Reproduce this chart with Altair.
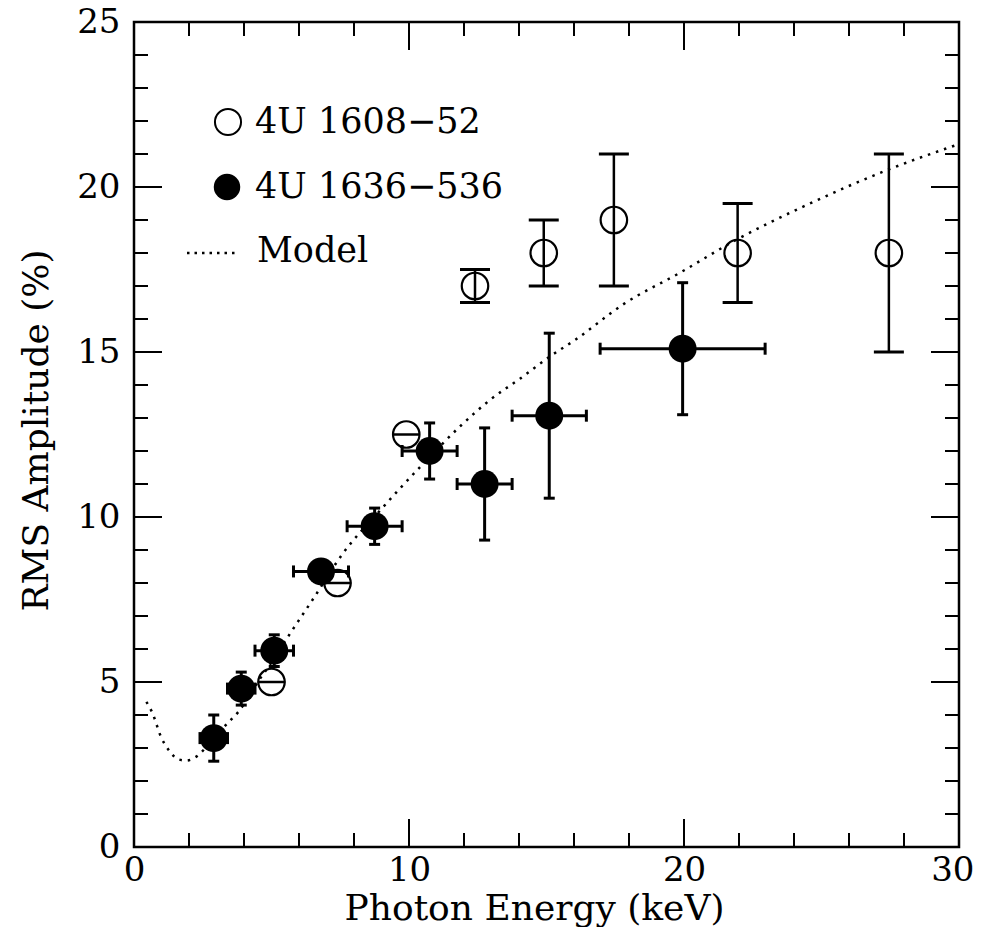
import altair as alt
import pandas as pd

# ---- data ----
# 4U 1636-536 (filled)
f_x = [2.9, 3.9, 5.1, 6.8, 8.75, 10.75, 12.75, 15.1, 19.95]
f_y = [3.3, 4.8, 5.95, 8.35, 9.72, 12.0, 11.0, 13.07, 15.1]
f_xerr = [0.5, 0.5, 0.7, 1.0, 1.0, 1.0, 1.0, 1.35, 3.0]
f_yerr = [0.7, 0.5, 0.48, 0.3, 0.55, 0.85, 1.7, 2.5, 2.0]

# 4U 1608-52 (open)
o_x = [5.0, 7.4, 9.9, 12.4, 14.9, 17.45, 21.95, 27.45]
o_y = [5.0, 8.0, 12.5, 17.0, 18.0, 19.0, 18.0, 18.0]
o_xerr = [0.5, 0.5, 0.5, 0, 0, 0, 0, 0]
o_yerr = [0, 0, 0, 0.5, 1.0, 2.0, 1.5, 3.0]

# Model (dotted)
m_x = [0.45, 0.65, 1.0, 1.3, 1.6, 1.9, 2.3, 2.8, 3.4, 3.8, 4.5, 5.0, 5.7, 6.5,
       7.6, 8.95, 10.5, 11.85, 12.95, 14.05, 15.1, 16.1, 17.8, 19.85, 21.9, 24.45, 27.5, 30.0]
m_y = [4.4, 4.1, 3.3, 2.9, 2.66, 2.62, 2.76, 3.2, 3.75, 4.1, 5.0, 5.6, 6.5, 7.5,
       8.9, 10.2, 11.6, 12.74, 13.55, 14.2, 14.85, 15.4, 16.45, 17.4, 18.4, 19.45, 20.55, 21.3]

x_labels = [0, 10, 20, 30]
y_labels = [0, 5, 10, 15, 20, 25]
x_minor = [2, 4, 6, 8, 12, 14, 16, 18, 22, 24, 26, 28]
x_major = [10, 20]
y_minor = [v for v in range(1, 25) if v % 5 != 0]
y_major = [5, 10, 15, 20]

legend_labels = ["4U 1608\u221252", "4U 1636\u2212536", "Model"]

FONT = "DejaVu Serif"
W = H = 825

fdf = pd.DataFrame({"x": f_x, "y": f_y, "xerr": f_xerr, "yerr": f_yerr})
fdf["xlo"] = fdf.x - fdf.xerr
fdf["xhi"] = fdf.x + fdf.xerr
fdf["ylo"] = fdf.y - fdf.yerr
fdf["yhi"] = fdf.y + fdf.yerr

odf = pd.DataFrame({"x": o_x, "y": o_y, "xerr": o_xerr, "yerr": o_yerr})
odf["xlo"] = odf.x - odf.xerr
odf["xhi"] = odf.x + odf.xerr
odf["ylo"] = odf.y - odf.yerr
odf["yhi"] = odf.y + odf.yerr
odf_y = odf[odf.yerr > 0]
odf_x = odf[odf.xerr > 0]

mdf = pd.DataFrame({"x": m_x, "y": m_y})

xaxis = alt.Axis(values=x_labels, ticks=False, tickSize=0, domain=False, grid=False,
                 labelFont=FONT, labelFontSize=34, labelColor="black", labelPadding=6,
                 labelFlush=False,
                 labelAlign={"condition": {"test": "datum.value >= 30", "value": "right"},
                             "value": "center"},
                 labelOffset={"condition": {"test": "datum.value >= 30", "value": 15},
                              "value": 0},
                 titleFont=FONT, titleFontSize=36, titleFontWeight="normal",
                 titleColor="black", titlePadding=4, titleX=400)
yaxis = alt.Axis(values=y_labels, ticks=False, tickSize=0, domain=False, grid=False,
                 labelFont=FONT, labelFontSize=34, labelColor="black", labelPadding=14,
                 titleFont=FONT, titleFontSize=36, titleFontWeight="normal",
                 titleColor="black", titlePadding=21, titleY=408)
xs = alt.Scale(domain=[0, 30], nice=False, zero=False)
ys = alt.Scale(domain=[0, 25], nice=False, zero=False)
XT = "Photon Energy (keV)"
YT = "RMS Amplitude (%)"


def X(f):
    return alt.X(f"{f}:Q", scale=xs, axis=xaxis, title=XT)


def Y(f):
    return alt.Y(f"{f}:Q", scale=ys, axis=yaxis, title=YT)


layers = []

# inward ticks on all four sides
for vals, ln in [(x_minor, 14), (x_major, 28)]:
    tdf = pd.DataFrame({"x": vals})
    layers.append(alt.Chart(tdf).mark_rule(color="black", strokeWidth=2).encode(
        x=X("x"), y=alt.value(H), y2=alt.value(H - ln)))
    layers.append(alt.Chart(tdf).mark_rule(color="black", strokeWidth=2).encode(
        x=X("x"), y=alt.value(0), y2=alt.value(ln)))
for vals, ln in [(y_minor, 14), (y_major, 28)]:
    tdf = pd.DataFrame({"y": vals})
    layers.append(alt.Chart(tdf).mark_rule(color="black", strokeWidth=2).encode(
        y=Y("y"), x=alt.value(0), x2=alt.value(ln)))
    layers.append(alt.Chart(tdf).mark_rule(color="black", strokeWidth=2).encode(
        y=Y("y"), x=alt.value(W), x2=alt.value(W - ln)))

# model
layers.append(alt.Chart(mdf).mark_line(color="black", strokeWidth=2.5, strokeDash=[2.5, 6],
                                       interpolate="monotone").encode(x=X("x"), y=Y("y")))

# open points error bars
layers.append(alt.Chart(odf_y).mark_rule(color="black", strokeWidth=2.5).encode(
    x=X("x"), y=Y("ylo"), y2="yhi:Q"))
for f in ["ylo", "yhi"]:
    layers.append(alt.Chart(odf_y).mark_tick(color="black", orient="horizontal", size=30,
                                             thickness=3, opacity=1).encode(x=X("x"), y=Y(f)))
layers.append(alt.Chart(odf_x).mark_rule(color="black", strokeWidth=2.5).encode(
    y=Y("y"), x=X("xlo"), x2="xhi:Q"))
layers.append(alt.Chart(odf).mark_point(shape="circle", filled=False, size=700, strokeWidth=2.2,
                                        color="black", opacity=1).encode(x=X("x"), y=Y("y")))

# filled points error bars
layers.append(alt.Chart(fdf).mark_rule(color="black", strokeWidth=3).encode(
    x=X("x"), y=Y("ylo"), y2="yhi:Q"))
layers.append(alt.Chart(fdf).mark_rule(color="black", strokeWidth=3).encode(
    y=Y("y"), x=X("xlo"), x2="xhi:Q"))
for f in ["ylo", "yhi"]:
    layers.append(alt.Chart(fdf).mark_tick(color="black", orient="horizontal", size=11,
                                           thickness=3, opacity=1).encode(x=X("x"), y=Y(f)))
for f in ["xlo", "xhi"]:
    layers.append(alt.Chart(fdf).mark_tick(color="black", orient="vertical", size=12,
                                           thickness=3, opacity=1).encode(x=X(f), y=Y("y")))
layers.append(alt.Chart(fdf).mark_point(shape="circle", filled=True, size=780,
                                        color="black", opacity=1).encode(x=X("x"), y=Y("y")))

# legend
leg = alt.Chart(pd.DataFrame({"a": [0]}))
layers.append(leg.mark_point(shape="circle", filled=False, size=680, strokeWidth=2,
                             color="black", opacity=1).encode(x=alt.value(94), y=alt.value(100)))
layers.append(leg.mark_point(shape="circle", filled=True, size=700,
                             color="black", opacity=1).encode(x=alt.value(93), y=alt.value(165)))
layers.append(leg.mark_rule(color="black", strokeWidth=2.5, strokeDash=[2.5, 5]).encode(
    x=alt.value(53), x2=alt.value(104), y=alt.value(231)))
for lbl, px, py in zip(legend_labels, [121, 121, 123], [100, 165, 229]):
    layers.append(leg.mark_text(align="left", baseline="middle", font=FONT, fontSize=35,
                                color="black").encode(x=alt.value(px), y=alt.value(py),
                                                      text=alt.value(lbl)))

chart = alt.layer(*layers).properties(
    width=W, height=H,
    autosize=alt.AutoSizeParams(type="none"),
    padding={"left": 126, "top": 14, "right": 16, "bottom": 80},
).configure_view(stroke="black", strokeWidth=2.5)

chart.save("out.html", embed_options={"renderer": "svg", "actions": False})
